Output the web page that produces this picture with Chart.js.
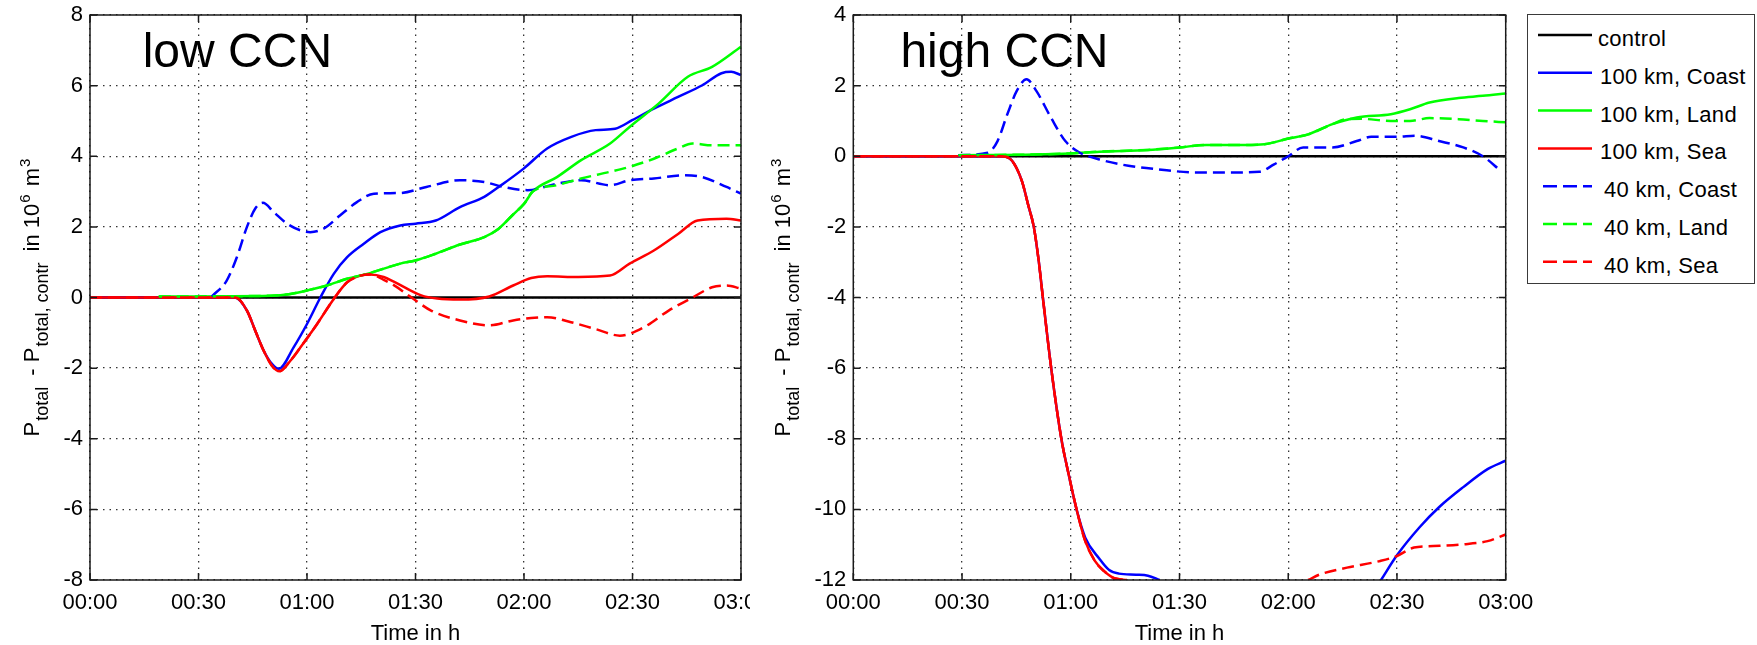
<!DOCTYPE html>
<html>
<head>
<meta charset="utf-8">
<title>P_total - P_total,contr</title>
<script src="https://cdn.jsdelivr.net/npm/chart.js@4.4.1/dist/chart.umd.min.js"></script>
<style>
  html, body { margin: 0; padding: 0; background: #fff; }
  body { width: 1757px; height: 645px; position: relative; overflow: hidden;
         font-family: 'Liberation Sans', Arial, sans-serif; }
  .wrap { position: absolute; top: 0; height: 645px; }
  #wrapLow  { left: 0;     width: 750px; }
  #wrapHigh { left: 750px; width: 795px; }
  #legend { position: absolute; left: 1527px; top: 14px; width: 226px; height: 268px;
            border: 1.5px solid #3a3a3a; background: #fff; }
  #legend svg { position: absolute; left: 0; top: 0; }
  #legend span { position: absolute; font-size: 22px; line-height: 22px; letter-spacing: 0.3px;
                 color: #000; white-space: nowrap; }
</style>
</head>
<body>
<div class="wrap" id="wrapLow"><canvas id="chartLow" width="750" height="645"></canvas></div>
<div class="wrap" id="wrapHigh"><canvas id="chartHigh" width="795" height="645"></canvas></div>
<div id="legend"></div>
<script>
// --- Daten (Zeit in Minuten, Werte in 10^6 m^3) ---
const timeTicks  = [0, 30, 60, 90, 120, 150, 180];
const timeLabels = ['00:00', '00:30', '01:00', '01:30', '02:00', '02:30', '03:00'];
const lowTicks   = [-8, -6, -4, -2, 0, 2, 4, 6, 8];
const highTicks  = [-12, -10, -8, -6, -4, -2, 0, 2, 4];

const seriesLabels = ['control', '100 km, Coast', '100 km, Land', '100 km, Sea',
                      '40 km, Coast', '40 km, Land', '40 km, Sea'];

// low CCN
const lowControl  = [[0, 0], [180, 0]];
const lowCoast100 = [[0, 0], [40, 0], [43.4, -0.37], [45.7, -0.94], [48, -1.5], [50.3, -1.88], [52.2, -2.02],
  [56.3, -1.41], [60, -0.75], [63.7, 0], [67.4, 0.67], [71.1, 1.14], [75.7, 1.52], [80.3, 1.85], [85.8, 2.04],
  [90, 2.09], [95.6, 2.18], [102.3, 2.56], [109, 2.85], [113, 3.13], [119.9, 3.65], [126.4, 4.22], [133.1, 4.55],
  [139.8, 4.74], [145.2, 4.78], [149.9, 5.02], [155.9, 5.35], [162.6, 5.68], [169.3, 6.01], [174.6, 6.35],
  [177.3, 6.39], [180, 6.3]];
const lowLand100 = [[19, 0.03], [50, 0.05], [55.4, 0.1], [60, 0.2], [65.5, 0.34], [71.1, 0.53], [76.6, 0.67],
  [85.8, 0.96], [90, 1.05], [95.6, 1.24], [102.3, 1.5], [109, 1.71], [113, 1.95], [117, 2.35], [120, 2.65],
  [122.4, 3.0], [129.1, 3.41], [135.8, 3.89], [143.8, 4.36], [149.2, 4.83], [157.2, 5.49], [165.3, 6.25],
  [172, 6.53], [180, 7.1]];
const lowSea100 = [[0, 0], [40.2, 0], [43.4, -0.37], [45.7, -0.94], [48, -1.5], [50.3, -1.93], [52.4, -2.09],
  [55.4, -1.79], [58.2, -1.41], [62.8, -0.75], [67.4, -0.04], [71.1, 0.43], [74.8, 0.62], [77.5, 0.65],
  [81.2, 0.58], [84, 0.45], [91.6, 0.06], [96, -0.03], [102.3, -0.06], [110.4, 0.03], [117, 0.34], [122, 0.55],
  [126.4, 0.6], [135, 0.58], [143.8, 0.62], [149.2, 0.96], [155.9, 1.33], [162.6, 1.8], [168, 2.18],
  [176, 2.23], [180, 2.18]];
const lowCoast40 = [[33.7, 0.03], [37.8, 0.48], [40.6, 1.14], [43.4, 2.0], [45.7, 2.52], [47.8, 2.68],
  [50.8, 2.42], [54.5, 2.09], [58.2, 1.9], [60.9, 1.85], [64.6, 1.95], [69.2, 2.33], [73.8, 2.7], [78.5, 2.94],
  [85.8, 2.96], [93, 3.13], [102.3, 3.32], [109, 3.27], [114.4, 3.13], [121, 3.04], [129, 3.22], [135.8, 3.32],
  [143.8, 3.18], [149.2, 3.32], [155.9, 3.37], [164, 3.46], [169.3, 3.41], [176, 3.13], [180, 2.94]];
const lowLand40 = [[19, 0.03], [50, 0.05], [55.4, 0.1], [60, 0.2], [65.5, 0.34], [71.1, 0.53], [76.6, 0.67],
  [85.8, 0.96], [90, 1.05], [95.6, 1.24], [102.3, 1.5], [109, 1.71], [113, 1.95], [117, 2.35], [120, 2.65],
  [122.4, 3.0], [129.1, 3.18], [135.8, 3.37], [143.8, 3.56], [149.2, 3.7], [155.9, 3.93], [162.6, 4.22],
  [166.6, 4.36], [172, 4.31], [180, 4.31]];
const lowSea40 = [[0, 0], [40.2, 0], [43.4, -0.37], [45.7, -0.94], [48, -1.5], [50.3, -1.93], [52.4, -2.09],
  [55.4, -1.79], [58.2, -1.41], [62.8, -0.75], [67.4, -0.04], [71.1, 0.43], [74.8, 0.62], [77.5, 0.65],
  [81.2, 0.5], [84, 0.35], [88.9, 0.0], [94.3, -0.37], [102.3, -0.65], [110.4, -0.79], [117, -0.65],
  [122, -0.58], [126.4, -0.56], [133, -0.7], [140, -0.9], [146.5, -1.08], [153.2, -0.84], [160, -0.37],
  [166.6, 0.0], [172, 0.29], [176, 0.34], [180, 0.25]];

// high CCN (null = Kurve unterhalb von -12, nicht sichtbar)
const highControl  = [[0, 0], [180, 0]];
const highCoast100 = [[0, 0], [41, 0], [43.8, -0.13], [46.5, -0.7], [48.3, -1.4], [49.8, -2.0], [51.2, -3.0],
  [52.3, -4.0], [54.6, -6.0], [57.4, -8.0], [59.4, -9.0], [61.6, -10.0], [64, -10.8], [67.9, -11.4],
  [70.6, -11.72], [73.3, -11.82], [78, -11.85], [81.3, -11.88], [84.5, -12.0], [115, null],
  [145.6, -12.0], [150, -11.3], [156.3, -10.5], [161.6, -9.94], [168.3, -9.37], [175, -8.86], [180, -8.62]];
const highLand100 = [[29, 0.03], [50, 0.05], [59.9, 0.08], [67.9, 0.13], [81.3, 0.18], [90, 0.25], [97.4, 0.32],
  [108, 0.32], [113.4, 0.34], [120, 0.5], [125.5, 0.62], [132.2, 0.91], [138.9, 1.1], [148.3, 1.19],
  [153.6, 1.33], [159, 1.52], [167, 1.65], [173.7, 1.71], [180, 1.78]];
const highSea100 = [[0, 0], [41, 0], [43.8, -0.13], [46.5, -0.7], [48.3, -1.4], [49.8, -2.0], [51.2, -3.0],
  [52.3, -4.0], [54.6, -6.0], [57.4, -8.0], [59.4, -9.0], [61.6, -10.0], [64, -10.9], [66.6, -11.45],
  [69.2, -11.75], [72, -11.95], [75.5, -12.0]];
const highCoast40 = [[29, 0.03], [37.1, 0.1], [39.8, 0.43], [42.5, 1.19], [45.1, 1.85], [47.8, 2.18],
  [50.5, 1.85], [54.5, 1.1], [58.5, 0.43], [62.5, 0.1], [67.9, -0.09], [75.9, -0.27], [84, -0.37],
  [94.7, -0.46], [102.7, -0.46], [112, -0.44], [116.1, -0.23], [120, 0], [124.1, 0.25], [132.2, 0.25],
  [138.9, 0.43], [142.9, 0.55], [150, 0.55], [155, 0.58], [161.6, 0.43], [168.3, 0.25], [173.7, 0.0],
  [178.5, -0.4]];
const highLand40 = [[29, 0.03], [50, 0.05], [59.9, 0.08], [67.9, 0.13], [81.3, 0.18], [90, 0.25], [97.4, 0.32],
  [108, 0.32], [113.4, 0.34], [120, 0.5], [125.5, 0.62], [132.2, 0.91], [136, 1.05], [140, 1.06],
  [148.3, 1.0], [153.6, 1.0], [159, 1.08], [167, 1.05], [173.7, 1.0], [180, 0.96]];
const highSea40 = [[0, 0], [41, 0], [43.8, -0.13], [46.5, -0.7], [48.3, -1.4], [49.8, -2.0], [51.2, -3.0],
  [52.3, -4.0], [54.6, -6.0], [57.4, -8.0], [59.4, -9.0], [61.6, -10.0], [64, -10.9], [66.6, -11.45],
  [69.2, -11.75], [72, -11.95], [75.5, -12.0], [100, null],
  [125.5, -12.0], [128.8, -11.84], [136.2, -11.65], [145.4, -11.46], [150, -11.32], [154.7, -11.08],
  [160, -11.04], [168.3, -10.99], [175, -10.9], [180, -10.71]];

// --- Stil ---
const FONT = "'Liberation Sans', Arial, Helvetica, sans-serif";
const seriesColors = ['#000000', '#0000ff', '#00ff00', '#ff0000', '#0000ff', '#00ff00', '#ff0000'];
const seriesDash   = [[], [], [], [], [12, 6], [12, 6], [12, 6]];

Chart.defaults.font.family = FONT;
Chart.defaults.font.size = 22;
Chart.defaults.color = '#000';

// Rahmen + nach innen zeigende Ticks (MATLAB-Stil)
const framePlugin = {
  id: 'frame',
  afterDatasetsDraw(chart) {
    const { ctx, chartArea: a, scales } = chart;
    ctx.save();
    ctx.strokeStyle = '#1a1a1a';
    ctx.lineWidth = 1.5;
    ctx.setLineDash([]);
    ctx.strokeRect(a.left, a.top, a.right - a.left, a.bottom - a.top);
    ctx.beginPath();
    scales.x.ticks.forEach(t => {
      const px = scales.x.getPixelForValue(t.value);
      ctx.moveTo(px, a.bottom); ctx.lineTo(px, a.bottom - 7);
      ctx.moveTo(px, a.top);    ctx.lineTo(px, a.top + 7);
    });
    scales.y.ticks.forEach(t => {
      const py = scales.y.getPixelForValue(t.value);
      ctx.moveTo(a.left, py);  ctx.lineTo(a.left + 7, py);
      ctx.moveTo(a.right, py); ctx.lineTo(a.right - 7, py);
    });
    ctx.stroke();
    ctx.restore();
  }
};

// y-Achsentitel mit Index / Exponent: [Text, Schrift, Versatz, Abstand danach]
const yTitlePlugin = {
  id: 'yTitle',
  afterDraw(chart, args, opts) {
    const { ctx, chartArea: a } = chart;
    const big = '22px ' + FONT, small = '18px ' + FONT, sup = '15px ' + FONT;
    const segs = [
      ['P', big, 0, 1], ['total', small, 9, 5], [' - P', big, 0, 1], ['total, contr', small, 9, 5],
      [' in 10', big, 0, 1], ['6', sup, -9, 2], [' m', big, 0, 1], ['3', sup, -9, 0]
    ];
    ctx.save();
    let total = 0;
    const widths = segs.map(s => { ctx.font = s[1]; const w = ctx.measureText(s[0]).width; total += w + s[3]; return w; });
    ctx.translate(opts.x, (a.top + a.bottom) / 2);
    ctx.rotate(-Math.PI / 2);
    ctx.fillStyle = '#000';
    ctx.textBaseline = 'alphabetic';
    ctx.textAlign = 'left';
    let x = -total / 2;
    segs.forEach((s, i) => {
      ctx.font = s[1];
      ctx.fillText(s[0], x, s[2]);
      x += widths[i] + s[3];
    });
    ctx.restore();
  }
};

// Beschriftung im Diagramm ("low CCN" / "high CCN")
const panelTitlePlugin = {
  id: 'panelTitle',
  afterDraw(chart, args, opts) {
    const { ctx } = chart;
    ctx.save();
    ctx.font = '48px ' + FONT;
    ctx.fillStyle = '#000';
    ctx.textBaseline = 'alphabetic';
    ctx.fillText(opts.text, opts.x, opts.y);
    ctx.restore();
  }
};

function toXY(arr) {
  return arr.map(p => ({ x: p[0], y: p[1] }));
}

function makeDatasets(list) {
  return list.map((arr, i) => ({
    label: seriesLabels[i],
    data: toXY(arr),
    borderColor: seriesColors[i],
    borderDash: seriesDash[i],
    borderWidth: 2.5,
    pointRadius: 0,
    fill: false,
    spanGaps: false,
    cubicInterpolationMode: 'monotone',
    order: list.length - 1 - i
  }));
}

function makeChart(canvasId, list, yTicks, yMin, yMax, yAxisWidth, padRight, titleText, titleX, yTitleX) {
  return new Chart(document.getElementById(canvasId), {
    type: 'line',
    data: { datasets: makeDatasets(list) },
    options: {
      responsive: false,
      animation: false,
      events: [],
      layout: { padding: { top: 15, right: padRight, left: 0, bottom: 0 } },
      plugins: {
        legend: { display: false },
        tooltip: { enabled: false },
        yTitle: { x: yTitleX },
        panelTitle: { text: titleText, x: titleX, y: 66.7 }
      },
      scales: {
        x: {
          type: 'linear',
          min: 0, max: 180,
          afterBuildTicks: s => { s.ticks = timeTicks.map(v => ({ value: v })); },
          ticks: {
            autoSkip: false, maxRotation: 0, padding: 10, color: '#000',
            font: { size: 22 },
            callback: (v) => timeLabels[timeTicks.indexOf(v)]
          },
          grid: { color: '#333', lineWidth: 1.3, drawTicks: false },
          border: { display: false, dash: [1.5, 5] },
          title: { display: true, text: 'Time in h', color: '#000',
                   font: { size: 22, lineHeight: 1 }, padding: 0 },
          afterFit: s => { s.height = 65; s.paddingLeft = 0; s.paddingRight = 0; }
        },
        y: {
          type: 'linear',
          min: yMin, max: yMax,
          afterBuildTicks: s => { s.ticks = yTicks.map(v => ({ value: v })); },
          ticks: { padding: 7, color: '#000', font: { size: 22 }, callback: v => String(v) },
          grid: { color: '#333', lineWidth: 1.3, drawTicks: false },
          border: { display: false, dash: [1.5, 5] },
          afterFit: s => { s.width = yAxisWidth; s.paddingTop = 0; s.paddingBottom = 0; }
        }
      }
    },
    plugins: [framePlugin, yTitlePlugin, panelTitlePlugin]
  });
}

makeChart('chartLow',
  [lowControl, lowCoast100, lowLand100, lowSea100, lowCoast40, lowLand40, lowSea40],
  lowTicks, -8, 8, 90, 9, 'low CCN', 142.7, 38.5);

makeChart('chartHigh',
  [highControl, highCoast100, highLand100, highSea100, highCoast40, highLand40, highSea40],
  highTicks, -12, 4, 103.3, 39.3, 'high CCN', 150.4, 40);

// --- Legende ---
(function buildLegend() {
  const box = document.getElementById('legend');
  const ns = 'http://www.w3.org/2000/svg';
  const svg = document.createElementNS(ns, 'svg');
  svg.setAttribute('width', 226);
  svg.setAttribute('height', 268);
  box.appendChild(svg);
  seriesLabels.forEach((lab, i) => {
    const y = 20 + i * 37.8;
    const dashed = seriesDash[i].length > 0;
    const line = document.createElementNS(ns, 'line');
    line.setAttribute('x1', dashed ? 15 : 10);
    line.setAttribute('x2', 64);
    line.setAttribute('y1', y);
    line.setAttribute('y2', y);
    line.setAttribute('stroke', seriesColors[i]);
    line.setAttribute('stroke-width', 2.5);
    if (dashed) line.setAttribute('stroke-dasharray', '14 6');
    svg.appendChild(line);
    const span = document.createElement('span');
    span.textContent = lab;
    span.style.left = (lab.startsWith('40') ? 76 : (i === 0 ? 70 : 72)) + 'px';
    span.style.top = (y - 7) + 'px';
    box.appendChild(span);
  });
})();
</script>
</body>
</html>
